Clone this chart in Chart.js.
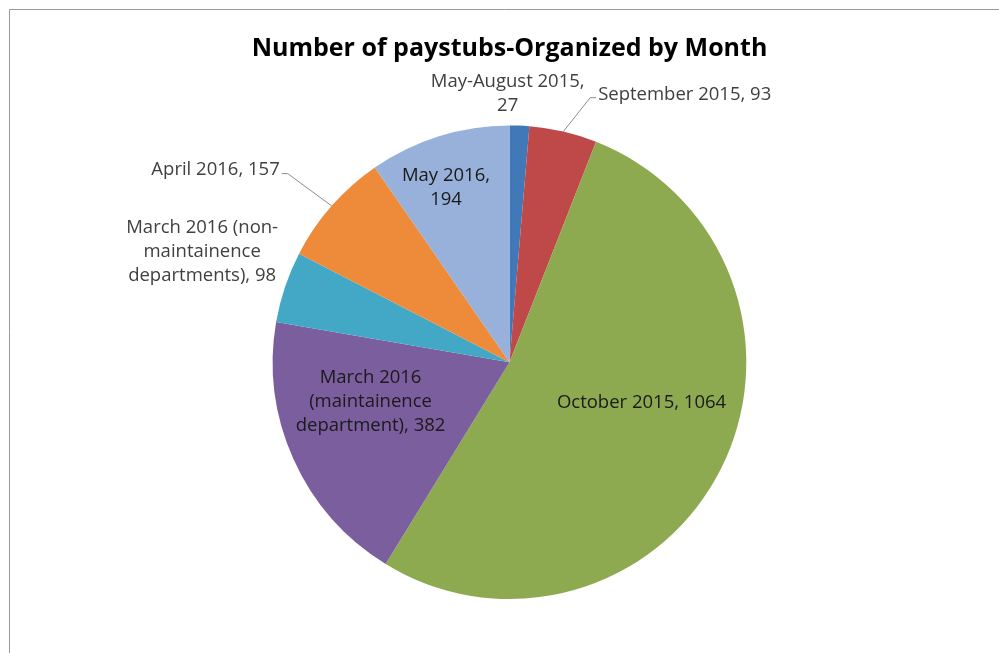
<!DOCTYPE html>
<html>
<head>
<meta charset="utf-8">
<script src="https://cdn.jsdelivr.net/npm/chart.js@4/dist/chart.umd.min.js"></script>
<style>
html,body{margin:0;padding:0;background:#fff;}
#wrap{position:relative;width:999px;height:653px;}
canvas{display:block;}
</style>
</head>
<body>
<div id="wrap"><canvas id="c" width="999" height="653"></canvas></div>
<script>
const categories = [
  "May-August 2015",
  "September 2015",
  "October 2015",
  "March 2016 (maintainence department)",
  "March 2016 (non-maintainence departments)",
  "April 2016",
  "May 2016"
];
const paystubs = [27, 93, 1064, 382, 98, 157, 194];
const sliceColors = ["#4178B8", "#BF4848", "#8EAA50", "#7B5E9D", "#42A8C6", "#EE8B3A", "#98B1DA"];
const labelLines = [
  ["May-August 2015,", "27"],
  ["September 2015, 93"],
  ["October 2015, 1064"],
  ["March 2016", "(maintainence", "department), 382"],
  ["March 2016 (non-", "maintainence", "departments), 98"],
  ["April 2016, 157"],
  ["May 2016,", "194"]
];
// label placement: angle offset (deg) from slice mid, radius fraction, alignment, leader line
const labelLayout = [
  {da:-2.8, f:1.132, align:"center", inside:false, leader:false},
  {da:5.2,  f:1.19,  align:"left",   inside:false, leader:true},
  {da:-9.5, f:0.583, align:"center", inside:true,  leader:false},
  {da:8.5,  f:0.61,  align:"center", inside:true,  leader:false},
  {da:1.2,  f:1.379, align:"center", inside:false, leader:false},
  {da:-1.35,f:1.266, align:"right",  inside:false, leader:true},
  {da:-2.7, f:0.783, align:"center", inside:true,  leader:false}
];

const LABEL_FONT = "18.5px 'Open Sans', sans-serif";
const LINE_H = 24;

const framePlugin = {
  id: "frame",
  beforeDraw(chart) {
    const ctx = chart.ctx;
    ctx.save();
    ctx.fillStyle = "#fff";
    ctx.fillRect(0, 0, chart.width, chart.height);
    ctx.strokeStyle = "#9a9a9a";
    ctx.lineWidth = 1;
    ctx.beginPath();
    ctx.moveTo(9.5, chart.height);
    ctx.lineTo(9.5, 9.5);
    ctx.lineTo(chart.width, 9.5);
    ctx.stroke();
    ctx.restore();
  }
};

const labelPlugin = {
  id: "sliceLabels",
  afterDatasetsDraw(chart) {
    const ctx = chart.ctx;
    const meta = chart.getDatasetMeta(0);
    ctx.save();
    ctx.font = LABEL_FONT;
    ctx.textBaseline = "middle";
    meta.data.forEach((arc, i) => {
      const p = arc.getProps(["x","y","startAngle","endAngle","outerRadius"], true);
      const mid = (p.startAngle + p.endAngle) / 2;
      const L = labelLayout[i];
      const a = mid + L.da * Math.PI / 180;
      const ax = p.x + Math.cos(a) * p.outerRadius * L.f;
      const ay = p.y + Math.sin(a) * p.outerRadius * L.f;
      const lines = labelLines[i];
      if (L.leader) {
        const ex = p.x + Math.cos(mid) * p.outerRadius;
        const ey = p.y + Math.sin(mid) * p.outerRadius;
        ctx.strokeStyle = "#8c8c8c";
        ctx.lineWidth = 1;
        ctx.beginPath();
        ctx.moveTo(ex, ey);
        if (L.align === "left") {
          ctx.lineTo(ax - 8, ay + 3);
          ctx.lineTo(ax - 2, ay + 3);
        } else {
          ctx.lineTo(ax + 8, ay + 4);
          ctx.lineTo(ax + 2, ay + 4);
        }
        ctx.stroke();
      }
      ctx.fillStyle = L.inside ? "#1a1a1a" : "#404040";
      ctx.textAlign = L.align;
      const y0 = ay - (lines.length - 1) * LINE_H / 2;
      lines.forEach((t, k) => ctx.fillText(t, ax, y0 + k * LINE_H));
    });
    ctx.restore();
  }
};

new Chart(document.getElementById("c"), {
  type: "pie",
  data: {
    labels: categories,
    datasets: [{
      data: paystubs,
      backgroundColor: sliceColors,
      borderWidth: 0
    }]
  },
  options: {
    responsive: false,
    animation: false,
    layout: { padding: { top: 0, bottom: 54, left: 20, right: 0 } },
    plugins: {
      legend: { display: false },
      tooltip: { enabled: false },
      title: {
        display: true,
        text: "Number of paystubs-Organized by Month",
        color: "#000",
        font: { family: "'Open Sans', sans-serif", size: 25, weight: "bold" },
        padding: { top: 34, bottom: 61.4 }
      }
    }
  },
  plugins: [framePlugin, labelPlugin]
});
</script>
</body>
</html>
